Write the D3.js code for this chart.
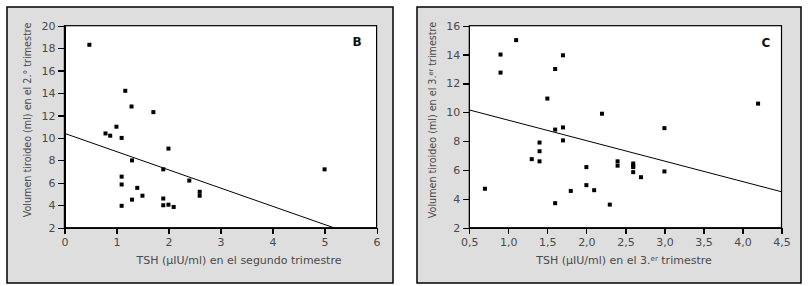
<!DOCTYPE html>
<html>
<head>
<meta charset="utf-8">
<script src="https://cdn.jsdelivr.net/npm/d3@7"></script>
<style>
  body { margin: 0; background: #fff; }
  svg text { font-family: "DejaVu Sans", sans-serif; }
  .axis path, .axis line { stroke: #000; stroke-width: 1.2; shape-rendering: crispEdges; }
  .axis text { fill: #4a4a4a; font-size: 11px; }
</style>
</head>
<body>
<div id="chart"></div>
<script>
// Panel B: second trimester
const tshB = [0.48, 1.17, 1.29, 1.71, 1.0, 0.79, 0.88, 1.1, 2.0, 1.3, 1.9, 5.0, 2.4, 1.1, 1.1, 1.4, 2.6, 2.6, 1.5, 1.3, 1.9, 1.9, 2.0, 1.1, 2.1];
const volB = [18.3, 14.2, 12.8, 12.3, 11.0, 10.4, 10.2, 10.0, 9.05, 8.0, 7.2, 7.2, 6.2, 6.55, 5.85, 5.55, 5.2, 4.85, 4.85, 4.5, 4.6, 4.0, 4.05, 3.95, 3.85];
const fitB = [10.41, -1.625]; // intercept, slope
const xTicksB = [0, 1, 2, 3, 4, 5, 6];
const yTicksB = [2, 4, 6, 8, 10, 12, 14, 16, 18, 20];

// Panel C: third trimester
const tshC = [1.1, 0.9, 1.7, 1.6, 0.9, 1.5, 4.2, 2.2, 1.6, 1.7, 3.0, 1.7, 1.4, 1.4, 1.3, 1.4, 2.4, 2.4, 2.6, 2.6, 2.6, 2.6, 2.0, 3.0, 2.7, 0.7, 2.0, 1.8, 2.1, 1.6, 2.3];
const volC = [15.0, 14.0, 13.95, 13.0, 12.75, 10.95, 10.6, 9.9, 8.8, 8.95, 8.9, 8.05, 7.9, 7.3, 6.75, 6.6, 6.6, 6.3, 6.45, 6.3, 6.2, 5.85, 6.2, 5.9, 5.5, 4.7, 4.95, 4.55, 4.6, 3.7, 3.6];
const fitC = [10.87, -1.4175];
const xTicksC = [0.5, 1.0, 1.5, 2.0, 2.5, 3.0, 3.5, 4.0, 4.5];
const yTicksC = [2, 4, 6, 8, 10, 12, 14, 16];

const width = 810, height = 286;
const svg = d3.select("#chart").append("svg")
  .attr("width", width)
  .attr("height", height);

const commaFmt = d => d.toFixed(1).replace(".", ",");

function drawPanel(opt){
  const g = svg.append("g");
  // marco gris
  g.append("rect")
    .attr("x", opt.box[0]).attr("y", 7)
    .attr("width", opt.box[1] - opt.box[0]).attr("height", 276)
    .attr("fill", "#dedede")
    .attr("stroke", "#000")
    .attr("stroke-width", 1.5);

  const x = d3.scaleLinear().domain(opt.xDomain).range([opt.plot[0], opt.plot[1]]);
  const y = d3.scaleLinear().domain(opt.yDomain).range([227.7, 25.7]);

  g.append("rect")
    .attr("x", x.range()[0]).attr("y", y.range()[1])
    .attr("width", x.range()[1] - x.range()[0])
    .attr("height", y.range()[0] - y.range()[1])
    .attr("fill", "#fff")
    .attr("stroke", "#000")
    .attr("stroke-width", 1.2);

  g.append("g")
    .classed("axis", true)
    .attr("transform", "translate(0," + y.range()[0] + ")")
    .call(d3.axisBottom(x).tickValues(opt.xTicks).tickFormat(opt.xFmt).tickSize(6).tickPadding(5).tickSizeOuter(0));

  g.append("g")
    .classed("axis", true)
    .attr("transform", "translate(" + x.range()[0] + ",0)")
    .call(d3.axisLeft(y).tickValues(opt.yTicks).tickSize(6).tickPadding(3).tickSizeOuter(0));

  // recta de regresión, recortada al área del gráfico
  const clipId = "clip" + opt.label;
  g.append("clipPath").attr("id", clipId)
    .append("rect")
    .attr("x", x.range()[0]).attr("y", y.range()[1])
    .attr("width", x.range()[1] - x.range()[0])
    .attr("height", y.range()[0] - y.range()[1]);
  const xs = opt.xDomain;
  g.append("line")
    .attr("clip-path", "url(#" + clipId + ")")
    .attr("x1", x(xs[0])).attr("y1", y(opt.fit[0] + opt.fit[1] * xs[0]))
    .attr("x2", x(xs[1])).attr("y2", y(opt.fit[0] + opt.fit[1] * xs[1]))
    .attr("stroke", "#000")
    .attr("stroke-width", 1);

  const pts = opt.xs.map((v, i) => ({x: v, y: opt.ys[i]}));
  g.selectAll(".pt")
    .data(pts)
    .enter()
    .append("rect")
    .classed("pt", true)
    .attr("x", d => x(d.x) - 2)
    .attr("y", d => y(d.y) - 2)
    .attr("width", 4)
    .attr("height", 4)
    .attr("fill", "#000");

  g.append("text")
    .attr("x", opt.labelPos[0]).attr("y", opt.labelPos[1])
    .attr("text-anchor", "middle")
    .attr("font-size", "12px")
    .attr("font-weight", "bold")
    .attr("fill", "#111")
    .text(opt.label);

  // título eje x
  const xt = g.append("text")
    .attr("x", opt.xTitleX).attr("y", 264)
    .attr("text-anchor", "middle")
    .attr("font-size", "11px")
    .attr("fill", "#4a4a4a");
  opt.xTitle.forEach(p => {
    const t = xt.append("tspan").text(p[0]);
    if(p[1]) t.attr("font-size", "7px").attr("baseline-shift", "45%");
  });

  // título eje y
  const yt = g.append("text")
    .attr("transform", "translate(" + opt.yTitleX + ",120) rotate(-90)")
    .attr("text-anchor", "middle")
    .attr("font-size", "9.6px")
    .attr("fill", "#4a4a4a");
  opt.yTitle.forEach(p => {
    const t = yt.append("tspan").text(p[0]);
    if(p[1]) t.attr("font-size", "6.5px").attr("baseline-shift", "45%");
  });
}

drawPanel({
  box: [7, 393], plot: [64.4, 376.6],
  xDomain: [0, 6], yDomain: [2, 20],
  xTicks: xTicksB, yTicks: yTicksB, xFmt: d3.format("d"),
  xs: tshB, ys: volB, fit: fitB,
  label: "B", labelPos: [357, 46],
  xTitleX: 239, xTitle: [["TSH (\u00b5IU/ml) en el segundo trimestre"]],
  yTitleX: 31, yTitle: [["Volumen tiroideo (ml) en el 2.\u00b0 trimestre"]]
});

drawPanel({
  box: [417, 801], plot: [469.3, 781.5],
  xDomain: [0.5, 4.5], yDomain: [2, 16],
  xTicks: xTicksC, yTicks: yTicksC, xFmt: commaFmt,
  xs: tshC, ys: volC, fit: fitC,
  label: "C", labelPos: [766, 47],
  xTitleX: 624, xTitle: [["TSH (\u00b5IU/ml) en el 3."], ["er", true], [" trimestre"]],
  yTitleX: 436, yTitle: [["Volumen tiroideo (ml) en el 3."], ["er", true], [" trimestre"]]
});
</script>
</body>
</html>
